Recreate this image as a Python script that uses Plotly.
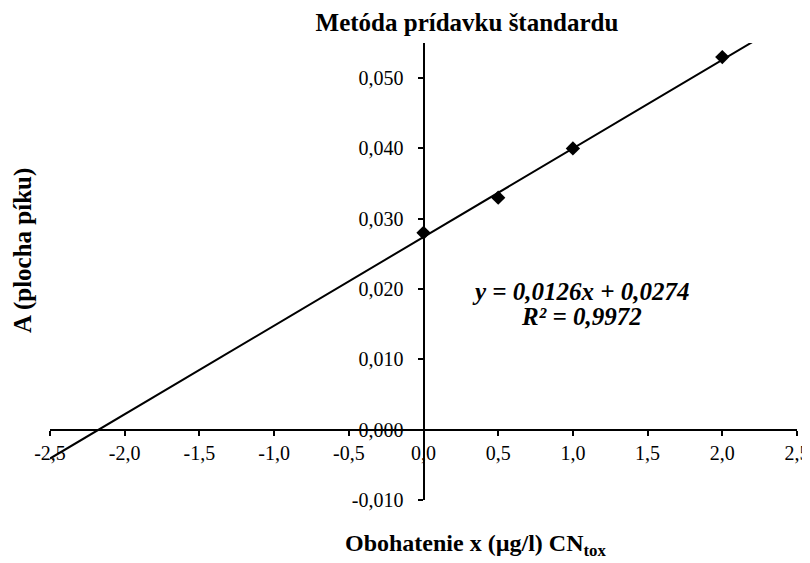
import plotly.graph_objects as go
import numpy as np

# Data
x_added = [0.0, 0.5, 1.0, 2.0]
area = [0.028, 0.033, 0.040, 0.053]
trend_slope = 0.0126
trend_intercept = 0.0274
trend_x_range = [-2.5, 2.2]
x_ticks = [-2.5, -2.0, -1.5, -1.0, -0.5, 0.0, 0.5, 1.0, 1.5, 2.0, 2.5]
y_ticks = [-0.010, 0.000, 0.010, 0.020, 0.030, 0.040, 0.050]

title_text = "<b>Metóda prídavku štandardu</b>"
x_title = "<b>Obohatenie x (µg/l) CN<sub>tox</sub></b>"
y_title = "<b>A (plocha píku)</b>"
eq_line1 = "<b><i>y = 0,0126x + 0,0274</i></b>"
eq_line2 = "<b><i>R² = 0,9972</i></b>"

FONT = "Liberation Serif, Times New Roman, serif"

# page body has an 8px default margin -> shrink figure so it fits the window
OFF = 8
W, H = 810 - OFF, 563 - OFF
ML, MR, MT, MB = 50 - OFF, 13, 43 - OFF, 63
x_min, x_max = -2.5, 2.5
y_min, y_max = -0.010, 0.055

x_ticktext = [f"{v:.1f}".replace(".", ",") for v in x_ticks]
y_ticktext = [f"{v:.3f}".replace(".", ",") for v in y_ticks]

tx = np.array(trend_x_range)
ty = trend_slope * tx + trend_intercept

fig = go.Figure()
fig.add_trace(go.Scatter(x=tx, y=ty, mode="lines",
                         line=dict(color="black", width=2),
                         showlegend=False, hoverinfo="skip", cliponaxis=True))
fig.add_trace(go.Scatter(x=x_added, y=area, mode="markers",
                         marker=dict(symbol="diamond", size=11, color="black"),
                         showlegend=False))

pw = W - ML - MR
ph = H - MT - MB

def px_x(p):
    return (p - OFF - ML) / pw

def px_y(p):
    return (H - MB - (p - OFF)) / ph

fig.update_layout(
    width=W, height=H,
    margin=dict(l=ML, r=MR, t=MT, b=MB, autoexpand=False),
    plot_bgcolor="white", paper_bgcolor="white",
    font=dict(family=FONT, size=20, color="black"),
    title=dict(text=title_text, font=dict(family=FONT, size=25, color="black"),
               xref="paper", x=px_x(467), xanchor="center",
               yref="container", y=1 - (22 - OFF) / H, yanchor="middle"),
    xaxis=dict(range=[x_min, x_max], tickvals=x_ticks, ticktext=x_ticktext,
               showgrid=False, zeroline=False, showline=True, automargin=False,
               linecolor="black", linewidth=2,
               ticks="outside", ticklen=5, tickwidth=2, tickcolor="black",
               anchor="free", position=(0 - y_min) / (y_max - y_min),
               tickfont=dict(family=FONT, size=20, color="black")),
    yaxis=dict(range=[y_min, y_max], tickvals=y_ticks, ticktext=y_ticktext,
               showgrid=False, zeroline=False, showline=True, automargin=False,
               linecolor="black", linewidth=2,
               ticks="outside", ticklen=5, tickwidth=2, tickcolor="black",
               anchor="free", position=(0 - x_min) / (x_max - x_min),
               ticklabelstandoff=10,
               tickfont=dict(family=FONT, size=20, color="black")),
    annotations=[
        dict(text=eq_line1, xref="paper", yref="paper", x=px_x(581), y=px_y(291),
             xanchor="center", yanchor="middle", showarrow=False,
             font=dict(family=FONT, size=25, color="black")),
        dict(text=eq_line2, xref="paper", yref="paper", x=px_x(581), y=px_y(316),
             xanchor="center", yanchor="middle", showarrow=False,
             font=dict(family=FONT, size=25, color="black")),
        dict(text=x_title, xref="paper", yref="paper", x=px_x(475), y=px_y(545),
             xanchor="center", yanchor="middle", showarrow=False,
             font=dict(family=FONT, size=24, color="black")),
        dict(text=y_title, xref="paper", yref="paper", x=px_x(23), y=px_y(251),
             xanchor="center", yanchor="middle", showarrow=False, textangle=-90,
             font=dict(family=FONT, size=25, color="black")),
    ],
)

fig.write_html("out.html")
